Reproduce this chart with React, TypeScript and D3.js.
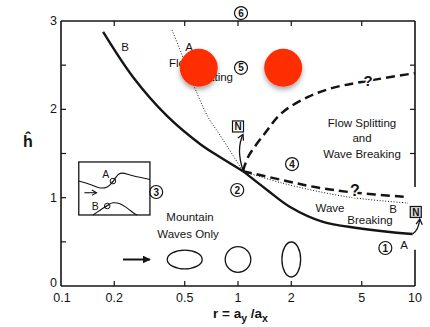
import React from 'react';
import * as d3 from 'd3';

const W = 430;
const H = 327;

// axis ticks
const xTickValues = [0.1, 0.2, 0.5, 1, 2, 5, 10];
const xTickLabels = ['0.1', '0.2', '0.5', '1', '2', '5', '10'];
const xInnerTicks = [0.2, 0.5, 1, 2, 5];
const yLabelValues = [0, 1, 2, 3];
const yInnerTicks = [0.5, 1, 1.5, 2, 2.5];
const rightGapH = [0.41, 1.12];

// solid boundary (B above r=1, A below), meeting at the triple point
const solidUpperR = [0.173, 0.255, 0.397, 0.61, 0.79, 1.067];
const solidUpperH = [2.876, 2.366, 1.925, 1.608, 1.46, 1.3];
const solidLowerR = [1.067, 1.46, 1.97, 3.02, 4.7, 7.2, 9.7];
const solidLowerH = [1.3, 1.087, 0.894, 0.725, 0.657, 0.611, 0.589];

// dotted boundary (A above r=1, B below)
const dottedUpperR = [0.424, 0.483, 0.586, 0.677, 0.79, 1.067];
const dottedUpperH = [2.898, 2.615, 2.185, 1.913, 1.71, 1.3];
const dottedLowerR = [1.067, 1.77, 4.18, 9.12];
const dottedLowerH = [1.3, 1.166, 1.008, 0.94];

// dashed (uncertain) boundaries
const dashUpperR = [1.067, 1.14, 1.42, 1.77, 2.49, 3.39, 5.0, 10];
const dashUpperH = [1.3, 1.46, 1.73, 1.96, 2.14, 2.24, 2.31, 2.41];
const dashLowerR = [1.067, 1.77, 2.72, 4.4, 8.8];
const dashLowerH = [1.3, 1.2, 1.12, 1.06, 1.01];

// regime numbers
const regionIds = ['1', '2', '3', '4', '5', '6'];
const regionR = [6.8, 0.99, 0.345, 2.02, 1.04, 1.04];
const regionH = [0.43, 1.087, 1.064, 1.38, 2.47, 3.09];

// obstacle outlines drawn at their aspect ratio r
const obstacleR = [0.5, 1, 2];
const obstacleH = 0.3;

// red markers
const markR = [0.6, 1.8];
const markH = [2.47, 2.47];

// inset frame, in data units
const insetR = [0.126, 0.318];
const insetH = [0.804, 1.404];

const FONT = '"Liberation Sans", Arial, Helvetica, sans-serif';
const INK = '#141414';

type P = [number, number];
const zip = (rs: number[], hs: number[]): P[] => rs.map((r, i) => [r, hs[i]] as P);

export default function App() {
  const x = d3.scaleLog().domain([0.1, 10]).range([61, 415]);
  const y = d3.scaleLinear().domain([0, 3]).range([286, 21]);
  const line = d3
    .line<P>()
    .x((d) => x(d[0]))
    .y((d) => y(d[1]))
    .curve(d3.curveCatmullRom.alpha(0.5));

  const x0 = x(0.1);
  const x1 = x(10);
  const yTop = y(3);
  const yBot = y(0);

  // inset geometry
  const ix = x(insetR[0]);
  const iy = y(insetH[1]);
  const iw = x(insetR[1]) - ix;
  const ih = y(insetH[0]) - iy;
  const sx = (f: number) => ix + f * iw;
  const sy = (f: number) => iy + f * ih;
  const local = d3
    .line<P>()
    .x((d) => sx(d[0]))
    .y((d) => sy(d[1]))
    .curve(d3.curveCatmullRom.alpha(0.5));
  const streamTop: P[] = [
    [0, 0.36], [0.15, 0.42], [0.3, 0.49], [0.4, 0.47], [0.47, 0.39],
    [0.51, 0.31], [0.56, 0.23], [0.61, 0.21], [0.76, 0.26], [1, 0.33],
  ];
  const bump: P[] = [
    [0.2, 1], [0.3, 0.91], [0.4, 0.82], [0.48, 0.77], [0.58, 0.79],
    [0.68, 0.87], [0.79, 0.98], [0.82, 1],
  ];

  const textStyle = { fontFamily: FONT, fill: INK } as const;

  // points for the N arrows
  const jx = x(1.067);
  const jy = y(1.3);
  const n1x = x(1.0);
  const n1y = y(1.806);
  const n2x = x(10.1);
  const n2y = y(0.838);
  const endX = x(9.7);
  const endY = y(0.589);

  const arrowY = y(obstacleH);

  return (
    <svg
      width={W}
      height={H}
      viewBox={`0 0 ${W} ${H}`}
      style={{ position: 'absolute', left: 0, top: 0, background: '#fff' }}
    >
      <defs>
        <filter id="shadow" x="-50%" y="-50%" width="200%" height="200%">
          <feDropShadow dx="0" dy="3" stdDeviation="2.5" floodColor="#000" floodOpacity="0.35" />
        </filter>
        <marker id="openHead" viewBox="0 0 10 10" refX="8" refY="5" markerWidth="6" markerHeight="6" orient="auto">
          <path d="M1,1 L8,5 L1,9" fill="none" stroke={INK} strokeWidth="1.6" />
        </marker>
        <marker id="solidHead" viewBox="0 0 10 10" refX="9" refY="5" markerWidth="4" markerHeight="4" orient="auto">
          <path d="M0,0 L10,5 L0,10 Z" fill={INK} />
        </marker>
      </defs>
      <rect x={0} y={0} width={W} height={H} fill="#fff" />

      {/* frame */}
      <g stroke={INK} strokeWidth={1.6} fill="none">
        <line x1={x0} y1={yTop} x2={x1} y2={yTop} />
        <line x1={x0} y1={yBot} x2={x1} y2={yBot} />
        <line x1={x0} y1={yTop} x2={x0} y2={yBot} />
        <line x1={x1} y1={yTop} x2={x1} y2={y(rightGapH[1])} />
        <line x1={x1} y1={y(rightGapH[0])} x2={x1} y2={yBot} />
      </g>

      {/* ticks */}
      <g stroke={INK} strokeWidth={1.2}>
        {xInnerTicks.map((v) => (
          <g key={`xt${v}`}>
            <line x1={x(v)} x2={x(v)} y1={yBot} y2={yBot - 5} />
            <line x1={x(v)} x2={x(v)} y1={yTop} y2={yTop + 5} />
          </g>
        ))}
        {yInnerTicks.map((v) => (
          <g key={`yt${v}`}>
            <line x1={x0} x2={x0 + 5} y1={y(v)} y2={y(v)} />
            {(v < rightGapH[0] || v > rightGapH[1]) && (
              <line x1={x1} x2={x1 - 5} y1={y(v)} y2={y(v)} />
            )}
          </g>
        ))}
      </g>

      {/* tick labels */}
      <g style={textStyle} fontSize={12.5} textAnchor="middle">
        {xTickValues.map((v, i) => (
          <text key={`xl${v}`} x={x(v) + (i === 0 ? 1 : 0)} y={yBot + 16}>
            {xTickLabels[i]}
          </text>
        ))}
      </g>
      <g style={textStyle} fontSize={12.5} textAnchor="end">
        {yLabelValues.map((v) => (
          <text key={`yl${v}`} x={x0 - 4} y={y(v) + 4 - (v === 0 ? 3 : 0)}>
            {v}
          </text>
        ))}
      </g>

      {/* axis titles */}
      <text x={28} y={147} textAnchor="middle" fontSize={16} fontWeight="bold" style={textStyle}>
        ĥ
      </text>
      <text x={213} y={318} fontSize={13.5} fontWeight="bold" style={textStyle}>
        <tspan>r = a</tspan>
        <tspan dy={4} fontSize={10.5}>y</tspan>
        <tspan dy={-4}> /a</tspan>
        <tspan dy={4} fontSize={10.5}>x</tspan>
      </text>

      {/* regime boundaries */}
      <g fill="none" stroke={INK}>
        <path d={line(zip(solidUpperR, solidUpperH)) || ''} strokeWidth={2.4} />
        <path d={line(zip(solidLowerR, solidLowerH)) || ''} strokeWidth={2.4} />
        <path d={line(zip(dottedUpperR, dottedUpperH)) || ''} strokeWidth={1} strokeDasharray="1 1.8" />
        <path d={line(zip(dottedLowerR, dottedLowerH)) || ''} strokeWidth={1} strokeDasharray="1 1.8" />
        <path d={line(zip(dashUpperR, dashUpperH)) || ''} strokeWidth={2.5} strokeDasharray="9 5" />
        <path d={line(zip(dashLowerR, dashLowerH)) || ''} strokeWidth={2.5} strokeDasharray="9 5" />
      </g>

      {/* question marks on the dashed curves */}
      <g style={textStyle} fontWeight="bold" textAnchor="middle" stroke="#fff" strokeWidth={3} paintOrder="stroke">
        <text x={x(5.43)} y={y(2.33) + 6} fontSize={15}>?</text>
        <text x={x(4.58)} y={y(1.087) + 6} fontSize={16}>?</text>
      </g>

      {/* N arrows */}
      <path
        d={`M${jx},${jy - 1} Q${jx - 7},${jy - 22} ${n1x + 5},${n1y + 8}`}
        fill="none"
        stroke={INK}
        strokeWidth={1.3}
        markerEnd="url(#openHead)"
      />
      <path
        d={`M${endX},${endY} Q${endX + 6},${endY - 4} ${n2x + 4},${n2y + 7}`}
        fill="none"
        stroke={INK}
        strokeWidth={1.3}
        markerEnd="url(#openHead)"
      />
      <g>
        <rect x={n1x - 5.5} y={n1y - 5.5} width={11} height={11} fill="#fff" stroke={INK} strokeWidth={1.2} />
        <text x={n1x} y={n1y + 4} textAnchor="middle" fontSize={10} fontWeight="bold" style={textStyle}>N</text>
        <rect x={n2x - 5.5} y={n2y - 5.5} width={11} height={11} fill="#d9d9d9" stroke={INK} strokeWidth={1.2} />
        <text x={n2x} y={n2y + 4} textAnchor="middle" fontSize={10} fontWeight="bold" style={textStyle}>N</text>
      </g>

      {/* regime numbers */}
      {regionIds.map((id, i) => (
        <g key={`reg${id}`}>
          <circle cx={x(regionR[i])} cy={y(regionH[i])} r={6.5} fill="#fff" stroke={INK} strokeWidth={1.2} />
          <text
            x={x(regionR[i])}
            y={y(regionH[i]) + 3.6}
            textAnchor="middle"
            fontSize={10}
            fontWeight="bold"
            style={textStyle}
          >
            {id}
          </text>
        </g>
      ))}

      {/* region labels */}
      <g style={textStyle} fontSize={11.5}>
        <text x={125} y={51} textAnchor="middle">B</text>
        <text x={189} y={51} textAnchor="middle">A</text>
        <text x={169} y={67}>Flow</text>
        <text x={233} y={81} textAnchor="end">Splitting</text>
        <text x={362} y={127} textAnchor="middle">Flow  Splitting</text>
        <text x={362} y={142} textAnchor="middle">and</text>
        <text x={362} y={158} textAnchor="middle">Wave  Breaking</text>
        <text x={330} y={212} textAnchor="middle">Wave</text>
        <text x={370} y={224} textAnchor="middle">Breaking</text>
        <text x={393} y={213} textAnchor="middle">B</text>
        <text x={404} y={249} textAnchor="middle">A</text>
        <text x={190} y={221} textAnchor="middle">Mountain</text>
        <text x={188} y={238} textAnchor="middle">Waves  Only</text>
      </g>

      {/* inset sketch */}
      <g fill="none" stroke={INK}>
        <rect x={ix} y={iy} width={iw} height={ih} strokeWidth={1.3} />
        <path d={local(streamTop) || ''} strokeWidth={1.1} />
        <path d={local(bump) || ''} strokeWidth={1.1} />
        <circle cx={sx(0.48)} cy={sy(0.36)} r={2.8} strokeWidth={1} />
        <line x1={sx(0.48) - 2.5} y1={sy(0.36) + 2} x2={sx(0.48) + 2.5} y2={sy(0.36) - 2} strokeWidth={0.8} />
        <circle cx={sx(0.4)} cy={sy(0.83)} r={2.8} strokeWidth={1} />
        <line x1={sx(0.4) - 2.5} y1={sy(0.83) + 2} x2={sx(0.4) + 2.5} y2={sy(0.83) - 2} strokeWidth={0.8} />
        <line x1={sx(0.08)} y1={sy(0.58)} x2={sx(0.25)} y2={sy(0.58)} strokeWidth={1.1} markerEnd="url(#openHead)" />
      </g>
      <g style={textStyle} fontSize={10.5} textAnchor="middle">
        <text x={sx(0.38)} y={sy(0.22) + 4}>A</text>
        <text x={sx(0.23)} y={sy(0.83) + 4}>B</text>
      </g>

      {/* flow arrow and obstacle outlines */}
      <line
        x1={x(0.224)}
        y1={arrowY}
        x2={x(0.318)}
        y2={arrowY}
        stroke={INK}
        strokeWidth={2}
        markerEnd="url(#solidHead)"
      />
      <g fill="none" stroke={INK} strokeWidth={1.3}>
        {obstacleR.map((r) => (
          <ellipse
            key={`ob${r}`}
            cx={x(r)}
            cy={arrowY}
            rx={12.8 / Math.pow(r, 0.45)}
            ry={12.8 * Math.pow(r, 0.45)}
          />
        ))}
      </g>

      {/* red markers */}
      <g filter="url(#shadow)">
        {markR.map((r, i) => (
          <circle key={`m${i}`} cx={x(r)} cy={y(markH[i])} r={19} fill="#ff2d06" />
        ))}
      </g>
    </svg>
  );
}
